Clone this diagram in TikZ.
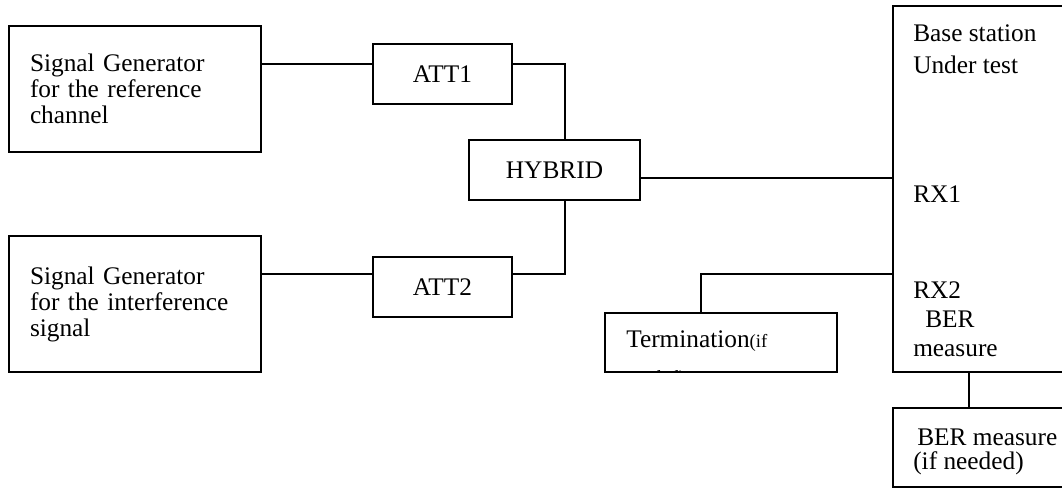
\documentclass[tikz,border=0pt]{standalone}
\usepackage{fontspec}
\setmainfont{Liberation Serif}
\newcommand{\mainfs}{\fontsize{19}{19.5}\selectfont}
\newcommand{\smallfs}{\fontsize{14}{15}\selectfont}
\tikzset{
  box/.style={draw, line width=1.3pt, rectangle, inner sep=0pt},
  wire/.style={line width=1.3pt},
  lbl/.style={anchor=base west, inner sep=0pt, font=\mainfs},
  genbox/.style={box, minimum width=189pt, text width=157.5pt, inner xsep=15.75pt,
                 align=left, font=\mainfs},
  attbox/.style={box, minimum width=104.25pt, minimum height=45pt, font=\mainfs},
}
\begin{document}
\begin{tikzpicture}[x=0.75pt, y=-0.75pt]
\useasboundingbox (0,0) rectangle (1062,488);
\clip (0,0) rectangle (1062,488);

% helper coordinates for wire routing
\coordinate (row1) at (0,64);
\coordinate (row2) at (0,274);
\coordinate (rxa) at (0,178);
\coordinate (jx) at (565,0);
\coordinate (tx) at (701,0);
\coordinate (bx) at (969,0);

% signal sources and attenuators
\node[genbox, minimum height=94.5pt] (sg1) at (135,89)
  {Signal Generator\\for the reference\\channel};
\node[genbox, minimum height=102pt] (sg2) at (135,304)
  {Signal Generator\\for the interference\\signal};
\node[attbox] (att1) at (442.5,74) {ATT1};
\node[attbox] (att2) at (442.5,287) {ATT2};
\node[box, minimum width=128.25pt, minimum height=45pt, font=\mainfs] (hyb) at (554.5,170) {HYBRID};

% base station, termination and BER unit
\node[box, minimum width=140.25pt, minimum height=274.5pt] (base) at (986.5,189) {};
\node[box, minimum width=174pt, minimum height=44.25pt] (term) at (721,342.5) {};
\node[box, minimum width=140.25pt, minimum height=59.25pt] (ber) at (986.5,447.5) {};

% base station labels
\node[lbl] (bs1) at (913,42) {Base station};
\node[lbl] (bs2) at (913,74) {Under test};
\node[lbl] (rx1) at (913,203) {RX1};
\node[lbl] (rx2) at (913,298) {RX2};
\node[lbl] (bm1) at (925,327) {BER};
\node[lbl] (bm2) at (913,356) {measure};

% BER unit labels
\node[lbl] (ber1) at (917,445) {BER measure};
\node[lbl] (ber2) at (913,469) {(if needed)};

% termination label, second line cut by the box edge
\node[lbl] (term1) at (626,347) {Termination{\smallfs(if}};
\begin{scope}
  \clip ([shift={(0.7pt,-0.7pt)}]term.north west) rectangle ([shift={(-0.7pt,0.7pt)}]term.south east);
  \node[lbl, font=\smallfs] (term2) at (626,383) {needed)};
\end{scope}

% wiring
\draw[wire] (sg1.east |- row1) -- (att1.west |- row1);
\draw[wire] (att1.east |- row1) -| (hyb.north -| jx);
\draw[wire] (sg2.east |- row2) -- (att2.west |- row2);
\draw[wire] (att2.east |- row2) -| (hyb.south -| jx);
\draw[wire] (hyb.east |- rxa) -- (base.west |- rxa);
\draw[wire] (base.west |- row2) -| (term.north -| tx);
\draw[wire] (base.south -| bx) -- (ber.north -| bx);
\end{tikzpicture}
\end{document}
